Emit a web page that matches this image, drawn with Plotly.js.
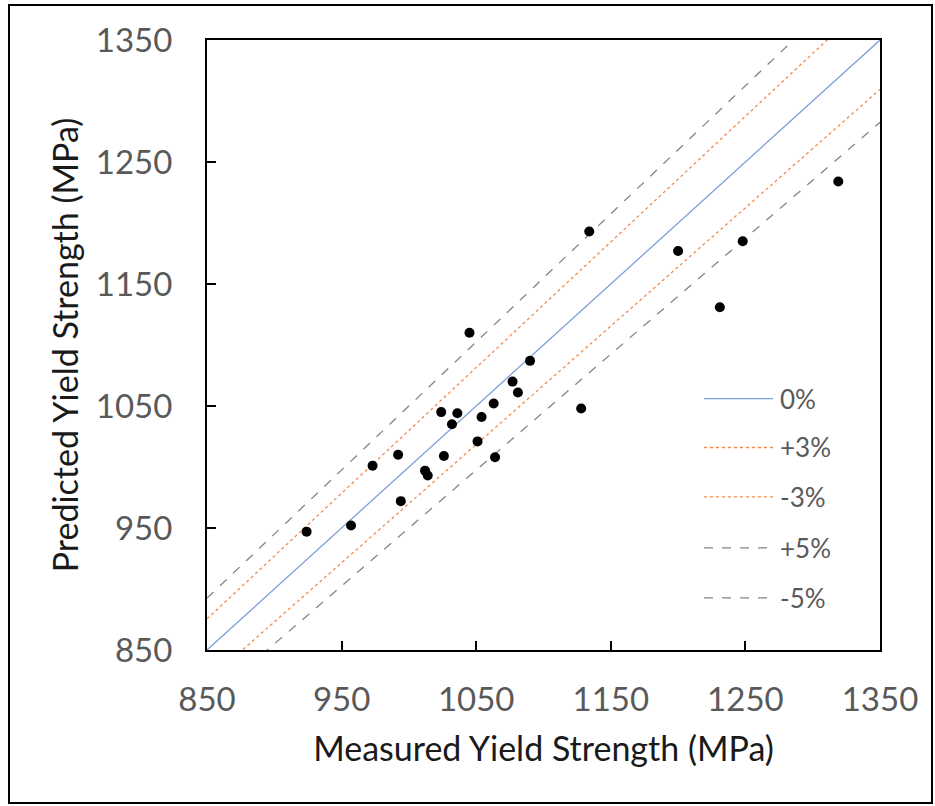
<!DOCTYPE html>
<html>
<head>
<meta charset="utf-8">
<script src="https://cdn.plot.ly/plotly-3.0.1.min.js"></script>
<style>
  html, body { margin: 0; padding: 0; background: #fff; }
  #wrap { position: relative; width: 935px; height: 806px; }
  #chart { position: absolute; left: 0; top: 0; width: 935px; height: 806px; }
  #frame { position: absolute; left: 8px; top: 4px; width: 925px; height: 800px;
           box-sizing: border-box; border: 2px solid #000; pointer-events: none; }
</style>
</head>
<body>
<div id="wrap">
  <div id="chart"></div>
  <div id="frame"></div>
</div>
<script>
// Measured vs predicted yield strength (MPa)
const measured = [924, 957, 973, 992, 994, 1012, 1014, 1024, 1026, 1032, 1036, 1045, 1051, 1054, 1063, 1064, 1077, 1081, 1090, 1128, 1134, 1200, 1231, 1248, 1319];
const predicted = [947, 952, 1001, 1010, 972, 997, 993, 1045, 1009, 1035, 1044, 1110, 1021, 1041, 1052, 1008, 1070, 1061, 1087, 1048, 1193, 1177, 1131, 1185, 1234];

// Reference lines (y = x, ±3 %, ±5 %)
const refX = [850, 1350];
const zeroY = [850, 1350];
const plus3Y = [875.5, 1390.5];
const minus3Y = [824.5, 1309.5];
const plus5Y = [892.5, 1417.5];
const minus5Y = [807.5, 1282.5];

const legendLabels = ['0%', '+3%', '-3%', '+5%', '-5%'];
const tickVals = [850, 950, 1050, 1150, 1250, 1350];

const refLines = [
  { y: zeroY,   color: '#7E9FDA', dash: 'solid', width: 1.3 },
  { y: plus3Y,  color: '#F08A4B', dash: 'dot',   width: 1.3 },
  { y: minus3Y, color: '#F08A4B', dash: 'dot',   width: 1.3 },
  { y: plus5Y,  color: '#7C8694', dash: 'dash',  width: 1.3 },
  { y: minus5Y, color: '#7C8694', dash: 'dash',  width: 1.3 }
];

const traces = refLines.map((r, i) => ({
  type: 'scatter', mode: 'lines', x: refX, y: r.y, name: legendLabels[i],
  line: { color: r.color, dash: r.dash, width: r.width },
  showlegend: false, hoverinfo: 'skip'
}));

traces.push({
  type: 'scatter', mode: 'markers', x: measured, y: predicted, name: 'data',
  marker: { color: '#000', size: 10 }, showlegend: false, cliponaxis: true
});

// Custom legend (long line samples like the original)
const legY = [0.412, 0.332, 0.251, 0.1675, 0.0854];
const shapes = refLines.map((r, i) => ({
  type: 'line', xref: 'paper', yref: 'paper',
  x0: 0.7385, x1: 0.841, y0: legY[i], y1: legY[i],
  line: { color: r.color, dash: r.dash, width: r.width }
}));
const annotations = legendLabels.map((t, i) => ({
  xref: 'paper', yref: 'paper', x: 0.848, y: legY[i],
  xanchor: 'left', yanchor: 'middle', text: t, showarrow: false,
  font: { family: 'Lato, sans-serif', size: 26, color: '#595959' }
}));

const axisCommon = {
  range: [850, 1350], tickvals: tickVals, ticktext: tickVals.map(String),
  showgrid: false, zeroline: false, showline: true, mirror: true,
  linecolor: '#000', linewidth: 2, ticks: 'inside', ticklen: 9, tickwidth: 2,
  tickcolor: '#000', tickfont: { family: 'Lato, sans-serif', size: 33, color: '#595959' },
  fixedrange: true
};

const layout = {
  width: 935, height: 806,
  margin: { l: 207, r: 55, t: 40, b: 156 },
  paper_bgcolor: 'rgba(0,0,0,0)', plot_bgcolor: '#fff',
  showlegend: false,
  xaxis: Object.assign({}, axisCommon, {
    ticklabelstandoff: 19,
    title: { text: 'Measured Yield Strength (MPa)', standoff: 21,
             font: { family: 'Lato, sans-serif', size: 34, color: '#1a1a1a' } }
  }),
  yaxis: Object.assign({}, axisCommon, {
    ticklabelstandoff: 26,
    title: { text: 'Predicted Yield Strength (MPa)', standoff: 7,
             font: { family: 'Lato, sans-serif', size: 34, color: '#1a1a1a' } }
  }),
  shapes: shapes,
  annotations: annotations
};

Plotly.newPlot('chart', traces, layout, { staticPlot: true, displayModeBar: false });
</script>
</body>
</html>
